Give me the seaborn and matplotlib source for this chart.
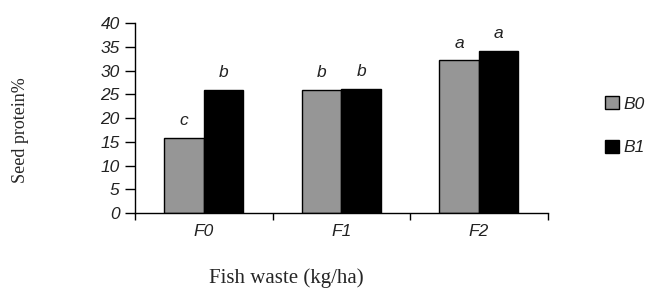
import matplotlib
matplotlib.use('Agg')
import matplotlib.pyplot as plt
import seaborn as sns
import pandas as pd

# data
fish_waste = ['F0', 'F1', 'F2']
b0_values = [15.8, 26.0, 32.2]
b1_values = [26.0, 26.2, 34.2]
b0_letters = ['c', 'b', 'a']
b1_letters = ['b', 'b', 'a']
y_ticks = [0, 5, 10, 15, 20, 25, 30, 35, 40]

df = pd.DataFrame({
    'fish': fish_waste * 2,
    'treat': ['B0'] * 3 + ['B1'] * 3,
    'protein': b0_values + b1_values,
})

sns.set_style('white')
plt.rcParams['font.family'] = ['Liberation Sans', 'DejaVu Sans']

fig = plt.figure(figsize=(6.49, 2.89), dpi=100)
ax = fig.add_axes([0.208, 0.263, 0.636, 0.657])

sns.barplot(data=df, x='fish', y='protein', hue='treat', ax=ax,
            palette=['#969696', '#000000'], width=0.574, gap=0,
            edgecolor='black', linewidth=1.0, saturation=1)

# significance letters above bars
letters = b0_letters + b1_letters
for patch, txt in zip(ax.patches[:6], letters):
    ax.text(patch.get_x() + patch.get_width() / 2, patch.get_height() + 2.0, txt,
            ha='center', va='bottom', fontsize=12.5, style='italic', color='#222222')

ax.set_ylim(0, 40)
ax.set_xlim(-0.5, 2.5)
ax.set_yticks(y_ticks)
ax.set_yticklabels([str(t) for t in y_ticks], fontsize=12.5, style='italic', color='#222222')
ax.set_xticks([0, 1, 2])
ax.set_xticklabels(fish_waste, fontsize=12.5, style='italic', color='#222222')
ax.tick_params(axis='x', which='major', length=0, pad=8)
ax.set_xticks([-0.5, 0.5, 1.5, 2.5], minor=True)
ax.tick_params(axis='x', which='minor', bottom=True, length=5, width=1,
               color='black', direction='out')
ax.tick_params(axis='y', length=7, width=1, color='black', direction='out', left=True, pad=4)

for side in ['top', 'right']:
    ax.spines[side].set_visible(False)
for side in ['left', 'bottom']:
    ax.spines[side].set_color('black')
    ax.spines[side].set_linewidth(1.0)

ax.set_xlabel('')
ax.set_ylabel('')
fig.text(0.031, 0.55, 'Seed protein%', rotation=90, ha='center', va='center',
         fontsize=13, family=['Liberation Serif', 'DejaVu Serif'])
fig.text(0.441, 0.021, 'Fish waste (kg/ha)', ha='center', va='baseline',
         fontsize=15, family=['Liberation Serif', 'DejaVu Serif'])

leg = ax.legend(loc='center left', bbox_to_anchor=(1.10, 0.46), frameon=False,
                labelspacing=1.6, handlelength=0.8, handleheight=0.8,
                handletextpad=0.3, fontsize=12.5)
for t in leg.get_texts():
    t.set_style('italic')
    t.set_color('#222222')

fig.savefig('out.png', dpi=100, facecolor='white')
plt.close(fig)
